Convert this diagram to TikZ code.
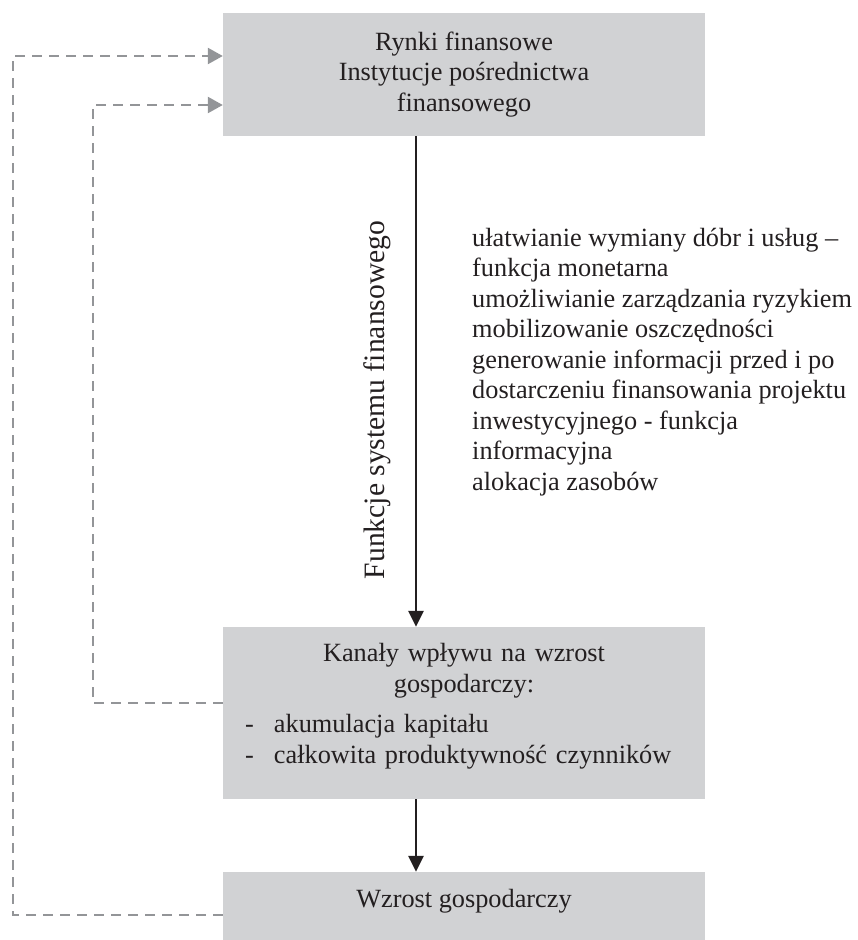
\documentclass[tikz,border=0pt]{standalone}
\usepackage{fontspec}
\setmainfont{Liberation Serif}
\usetikzlibrary{arrows.meta}
\setlength{\parindent}{0pt}
\definecolor{boxgray}{HTML}{D1D2D4}
\definecolor{dashgray}{HTML}{939598}
\definecolor{ink}{HTML}{231F20}
\begin{document}
\begin{tikzpicture}[x=1pt,y=1pt,font=\fontsize{26.3}{30.5}\selectfont,text=ink,line join=miter,
    box/.style={fill=boxgray,minimum width=482pt,inner sep=0pt,align=center},
    mainarrow/.style={draw=ink,line width=2.6pt,-{Triangle[width=15pt,length=16pt]}},
    feedback/.style={draw=dashgray,line width=2.4pt,dash pattern=on 10pt off 7pt,-{Triangle[width=16pt,length=15pt]}}]
				\useasboundingbox (0,0) rectangle (858,-940);
				\path
				(416,0) coordinate (axis)
				(13,-915) coordinate (outer)
				(13,-56) coordinate (outertop)
				(93,-703) coordinate (inner)
				(93,-105) coordinate (innertop)
				;
				% boxes
				\node[box,minimum height=123pt] (rynki) at (464,-74.5) {Rynki finansowe\\Instytucje pośrednictwa\\finansowego};
				\node[box,minimum height=172pt,text width=438pt,align=left] (kanaly) at (464,-713)
				{{\centering Kanały wpływu na wzrost\\gospodarczy:\par}\vspace{10pt}
				\raggedright\makebox[29pt][l]{-}akumulacja kapitału\\
				\makebox[29pt][l]{-}całkowita produktywność czynników\par\vspace{14pt}};
				\node[box,minimum height=68pt,text depth=16pt] (wzrost) at (464,-906) {Wzrost gospodarczy};
				% labels
				\node[rotate=90,font=\fontsize{29.6}{34}\selectfont] (funkcje) at (377,-400) {Funkcje systemu finansowego};
				\node[anchor=north west,align=left,inner sep=0pt] (lista) at (472,-228)
				{ułatwianie wymiany dóbr i usług --\\funkcja monetarna\\umożliwianie zarządzania ryzykiem\\mobilizowanie oszczędności\\generowanie informacji przed i po\\dostarczeniu finansowania projektu\\inwestycyjnego - funkcja\\informacyjna\\alokacja zasobów};
				% connectors
				\draw[mainarrow] (rynki.south -| axis) -- (kanaly.north -| axis);
				\draw[mainarrow] (kanaly.south -| axis) -- (wzrost.north -| axis);
				\draw[feedback] (wzrost.west |- outer) -- (outer) -- (outertop) -- (rynki.west |- outertop);
				\draw[feedback] (kanaly.west |- inner) -- (inner) -- (innertop) -- (rynki.west |- innertop);
\end{tikzpicture}
\end{document}
